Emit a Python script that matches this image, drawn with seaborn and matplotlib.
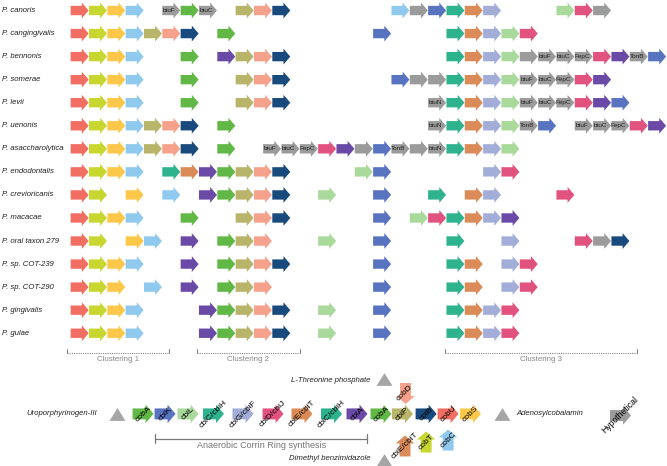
import numpy as np
import pandas as pd
import matplotlib
matplotlib.use('Agg')
import matplotlib.pyplot as plt
from matplotlib.path import Path
from matplotlib.markers import MarkerStyle
import seaborn as sns

# Species (rows, top to bottom)
species = ['P. canoris', 'P. cangingivalis', 'P. bennonis', 'P. somerae', 'P. levii',
           'P. uenonis', 'P. asaccharolytica', 'P. endodontalis', 'P. crevioricanis',
           'P. macacae', 'P. oral taxon 279', 'P. sp. COT-239', 'P. sp. COT-290',
           'P. gingivalis', 'P. gulae']

# Gene order per genome: (slot, gene)
clu1 = [(0, 'cobU'), (1, 'cobT'), (2, 'cobS'), (3, 'cobC')]
canoris = clu1 + [(5, 'btuF'), (6, 'cobA'), (7, 'btuC'), (9, 'cbiP'), (10, 'cobD'), (11, 'cbiB'),
                  (17.5, 'cobC'), (18.5, 'hyp'), (19.5, 'cbiK'), (20.5, 'cbiC/cbiH'), (21.5, 'cbiE/cbiT'),
                  (22.5, 'cbiG/cbiF'), (26.5, 'cbiL'), (27.5, 'cbiD/cbiJ'), (28.5, 'hyp')]
cangingivalis = clu1 + [(4, 'cbiP'), (5, 'cobD'), (6, 'cbiB'), (8, 'cobA'), (16.5, 'cbiK'),
                        (20.5, 'cbiC/cbiH'), (21.5, 'cbiE/cbiT'), (22.5, 'cbiG/cbiF'), (23.5, 'cbiL'),
                        (24.5, 'cbiD/cbiJ')]
bennonis = clu1 + [(6, 'cobA'), (8, 'cbiA'), (9, 'cbiP'), (10, 'cobD'), (11, 'cbiB'),
                   (20.5, 'cbiC/cbiH'), (21.5, 'cbiE/cbiT'), (22.5, 'cbiG/cbiF'), (23.5, 'cbiL'),
                   (24.5, 'hyp'), (25.5, 'btuF'), (26.5, 'btuC'), (27.5, 'FepC'), (28.5, 'cbiD/cbiJ'),
                   (29.5, 'cbiA'), (30.5, 'TonB'), (31.5, 'cbiK')]
somerae = clu1 + [(6, 'cobA'), (9, 'cbiP'), (10, 'cobD'), (11, 'cbiB'), (17.5, 'cbiK'), (18.5, 'hyp'),
                  (19.5, 'hyp'), (20.5, 'cbiC/cbiH'), (21.5, 'cbiE/cbiT'), (22.5, 'cbiG/cbiF'),
                  (23.5, 'cbiL'), (24.5, 'btuF'), (25.5, 'btuC'), (26.5, 'FepC'), (27.5, 'cbiD/cbiJ'),
                  (28.5, 'cbiA')]
levii = clu1 + [(6, 'cobA'), (9, 'cbiP'), (10, 'cobD'), (11, 'cbiB'), (19.5, 'btuN'),
                (20.5, 'cbiC/cbiH'), (21.5, 'cbiE/cbiT'), (22.5, 'cbiG/cbiF'), (23.5, 'cbiL'),
                (24.5, 'btuF'), (25.5, 'btuC'), (26.5, 'FepC'), (27.5, 'cbiD/cbiJ'), (28.5, 'cbiA'),
                (29.5, 'cbiK')]
uenonis = clu1 + [(4, 'cbiP'), (5, 'cobD'), (6, 'cbiB'), (8, 'cobA'), (19.5, 'btuN'),
                  (20.5, 'cbiC/cbiH'), (21.5, 'cbiE/cbiT'), (22.5, 'cbiG/cbiF'), (23.5, 'cbiL'),
                  (24.5, 'TonB'), (25.5, 'cbiK'), (27.5, 'btuF'), (28.5, 'btuC'), (29.5, 'FepC'),
                  (30.5, 'cbiD/cbiJ'), (31.5, 'cbiA')]
asaccharolytica = clu1 + [(4, 'cbiP'), (5, 'cobD'), (6, 'cbiB'), (8, 'cobA'), (10.5, 'btuF'),
                          (11.5, 'btuC'), (12.5, 'FepC'), (13.5, 'cbiD/cbiJ'), (14.5, 'cbiA'),
                          (15.5, 'hyp'), (16.5, 'cbiK'), (17.5, 'TonB'), (18.5, 'hyp'), (19.5, 'btuN'),
                          (20.5, 'cbiC/cbiH'), (21.5, 'cbiE/cbiT'), (22.5, 'cbiG/cbiF'), (23.5, 'cbiL')]
endodontalis = clu1 + [(5, 'cbiC/cbiH'), (6, 'cbiE/cbiT'), (7, 'cbiA'), (8, 'cobA'), (9, 'cbiP'),
                       (10, 'cobD'), (11, 'cbiB'), (15.5, 'cbiL'), (16.5, 'cbiK'), (22.5, 'cbiG/cbiF'),
                       (23.5, 'cbiD/cbiJ')]
crevioricanis = [(0, 'cobU'), (1, 'cobT'), (3, 'cobS'), (5, 'cobC'), (7, 'cbiA'), (8, 'cobA'),
                 (9, 'cbiP'), (10, 'cobD'), (11, 'cbiB'), (13.5, 'cbiL'), (16.5, 'cbiK'),
                 (19.5, 'cbiC/cbiH'), (21.5, 'cbiE/cbiT'), (22.5, 'cbiG/cbiF'), (26.5, 'cbiD/cbiJ')]
macacae = clu1 + [(6, 'cobA'), (9, 'cbiP'), (10, 'cobD'), (11, 'cbiB'), (16.5, 'cbiK'), (18.5, 'cbiL'),
                  (19.5, 'cbiD/cbiJ'), (20.5, 'cbiC/cbiH'), (21.5, 'cbiE/cbiT'), (22.5, 'cbiG/cbiF'),
                  (23.5, 'cbiA')]
oral279 = [(0, 'cobU'), (1, 'cobT'), (3, 'cobS'), (4, 'cobC'), (6, 'cbiA'), (8, 'cobA'), (9, 'cbiP'),
           (10, 'cobD'), (13.5, 'cbiL'), (16.5, 'cbiK'), (20.5, 'cbiC/cbiH'), (23.5, 'cbiG/cbiF'),
           (27.5, 'cbiD/cbiJ'), (28.5, 'hyp'), (29.5, 'cbiB')]
cot239 = clu1 + [(6, 'cbiA'), (8, 'cobA'), (9, 'cbiP'), (10, 'cobD'), (11, 'cbiB'), (16.5, 'cbiK'),
                 (20.5, 'cbiC/cbiH'), (21.5, 'cbiE/cbiT'), (23.5, 'cbiG/cbiF'), (24.5, 'cbiD/cbiJ')]
cot290 = [(0, 'cobU'), (1, 'cobT'), (2, 'cobS'), (4, 'cobC'), (6, 'cbiA'), (8, 'cobA'), (9, 'cbiP'),
          (10, 'cobD'), (16.5, 'cbiK'), (20.5, 'cbiC/cbiH'), (21.5, 'cbiE/cbiT'), (23.5, 'cbiG/cbiF'),
          (24.5, 'cbiD/cbiJ')]
gingivalis = clu1 + [(7, 'cbiA'), (8, 'cobA'), (9, 'cbiP'), (10, 'cobD'), (11, 'cbiB'), (13.5, 'cbiL'),
                     (16.5, 'cbiK'), (20.5, 'cbiC/cbiH'), (21.5, 'cbiE/cbiT'), (22.5, 'cbiG/cbiF'),
                     (23.5, 'cbiD/cbiJ')]
gulae = list(gingivalis)

genomes = [canoris, cangingivalis, bennonis, somerae, levii, uenonis, asaccharolytica, endodontalis,
           crevioricanis, macacae, oral279, cot239, cot290, gingivalis, gulae]

# Pathway key
pathway_genes = ['cobA', 'cbiK', 'cbiL', 'cbiC/cbiH', 'cbiG/cbiF', 'cbiD/cbiJ', 'cbiE/cbiT',
                 'cbiC/cbiH', 'cbiA', 'cobA', 'cbiP', 'cbiB', 'cobU', 'cobS']
side_genes = ['cobD', 'cbiE/cbiT', 'cobT', 'cobC']
side_dirs = ['down', 'up', 'up', 'up']
substrates = ['Uroporphyrinogen-III', 'L-Threonine phosphate', 'Adenosylcobalamin', 'Dimethyl benzimidazole']
clusters = ['Clustering 1', 'Clustering 2', 'Clustering 3']
labelled_gray = ['btuF', 'btuC', 'FepC', 'btuN', 'TonB']

colors = {
    'cobU': '#f26d62', 'cobT': '#c8d730', 'cobS': '#fdc84a', 'cobC': '#8fcaee',
    'cbiP': '#b8b56b', 'cobD': '#f5a18b', 'cbiB': '#184a7d', 'cobA': '#62b846',
    'cbiA': '#6a4aa6', 'cbiK': '#5873c0', 'cbiC/cbiH': '#2fb28e', 'cbiE/cbiT': '#da8b58',
    'cbiG/cbiF': '#a3aed8', 'cbiL': '#a9d99b', 'cbiD/cbiJ': '#e2527f', 'hyp': '#9b9b9b',
    'btuF': '#9b9b9b', 'btuC': '#9b9b9b', 'FepC': '#9b9b9b', 'btuN': '#9b9b9b', 'TonB': '#9b9b9b',
}
GRAY = '#9b9b9b'


def arrow_marker(angle=0):
    v = np.array([[-0.5, -0.26], [0.12, -0.26], [0.12, -0.44], [0.5, 0.0],
                  [0.12, 0.44], [0.12, 0.26], [-0.5, 0.26], [-0.5, -0.26]])
    a = np.deg2rad(angle)
    rot = np.array([[np.cos(a), -np.sin(a)], [np.sin(a), np.cos(a)]])
    return MarkerStyle(Path(v @ rot.T, closed=True))


tri_marker = MarkerStyle(Path(np.array([[-0.5, -0.4], [0.5, -0.4], [0.0, 0.4], [-0.5, -0.4]]), closed=True))

# long table of genome arrows
recs = []
for r, g in enumerate(genomes):
    for slot, gene in g:
        recs.append({'row': r, 'slot': slot, 'gene': gene})
df = pd.DataFrame(recs)

sns.set_theme(style='white')
plt.rcParams['font.family'] = ['Liberation Sans', 'DejaVu Sans']

fig = plt.figure(figsize=(6.67, 4.66), dpi=100)
ax = fig.add_axes([0, 0, 1, 1])
ax.set_xlim(-4.345, 32.04)
ax.set_ylim(19.76, -0.456)
ax.axis('off')

sns.scatterplot(data=df, x='slot', y='row', hue='gene', palette=colors, marker=arrow_marker(),
                s=168, linewidth=0, legend=False, ax=ax)

for _, rec in df[df['gene'].isin(labelled_gray)].iterrows():
    ax.text(rec['slot'] - 0.1, rec['row'], rec['gene'], fontsize=4.6, ha='center', va='center',
            color='#222222')

for r, name in enumerate(species):
    ax.text(-4.24, r, name, fontsize=5.6, style='italic', ha='left', va='center', color='#222222')

# clustering brackets
cl_spans = [(-0.69, 4.88), (6.4, 12.02), (19.93, 30.41)]
for name, (x0, x1) in zip(clusters, cl_spans):
    ax.plot([x0, x1], [14.86, 14.86], ls=(0, (1, 1)), color='#888888', lw=0.8)
    ax.plot([x0, x0], [14.86, 14.68], color='#888888', lw=0.8)
    ax.plot([x1, x1], [14.86, 14.68], color='#888888', lw=0.8)
    ax.text((x0 + x1) / 2, 15.12, name, fontsize=5.7, ha='center', va='center', color='#888888')

# pathway key
key_x = [3.46, 4.66, 5.91, 7.30, 8.91, 10.55, 12.13, 13.74, 15.13, 16.44, 17.61, 18.90, 20.10, 21.32]
key = pd.DataFrame({'x': key_x, 'y': [17.5] * len(key_x), 'gene': pathway_genes})
sns.scatterplot(data=key, x='x', y='y', hue='gene', palette=colors, marker=arrow_marker(),
                s=229, linewidth=0, legend=False, ax=ax)
side = pd.DataFrame({'x': [17.75, 17.75, 18.9, 20.1], 'y': [16.6, 18.89, 18.72, 18.63],
                     'gene': side_genes, 'dir': side_dirs})
for d, ang in [('down', -90), ('up', 90)]:
    sub = side[side['dir'] == d]
    sns.scatterplot(data=sub, x='x', y='y', hue='gene', palette=colors, marker=arrow_marker(ang),
                    s=229, linewidth=0, legend=False, ax=ax)
for _, rec in pd.concat([key, side]).iterrows():
    ax.text(rec['x'], rec['y'], rec['gene'], fontsize=6.0, rotation=45, ha='center', va='center',
            rotation_mode='anchor', color='black')

# hypothetical
hyp = pd.DataFrame({'x': [29.48], 'y': [17.55]})
sns.scatterplot(data=hyp, x='x', y='y', color=GRAY, marker=arrow_marker(), s=229, linewidth=0,
                legend=False, ax=ax)
ax.text(29.48, 17.55, 'Hypothetical', fontsize=6.2, rotation=45, ha='center', va='center',
        rotation_mode='anchor', color='black')

# substrate / product triangles
tri = pd.DataFrame({'x': [2.04, 16.6, 23.05, 16.6], 'y': [17.5, 15.98, 17.5, 19.5]})
sns.scatterplot(data=tri, x='x', y='y', color='#a6a6a6', marker=tri_marker, s=133, linewidth=0,
                legend=False, ax=ax)
sub_pos = [(0.95, 17.5, 'right'), (15.84, 16.03, 'right'), (23.8, 17.5, 'left'), (15.89, 19.45, 'right')]
for name, (x, y, ha) in zip(substrates, sub_pos):
    ax.text(x, y, name, fontsize=5.6, style='italic', ha=ha, va='center', color='#222222')

# anaerobic bracket
ax.plot([4.12, 15.67], [18.57, 18.57], color='#777777', lw=0.9)
for x in [4.12, 15.67]:
    ax.plot([x, x], [18.39, 18.75], color='#777777', lw=0.9)
ax.text(9.95, 18.86, 'Anaerobic Corrin Ring synthesis', fontsize=6.5, ha='center', va='center',
        color='#777777')

fig.savefig('out.png', dpi=100)
